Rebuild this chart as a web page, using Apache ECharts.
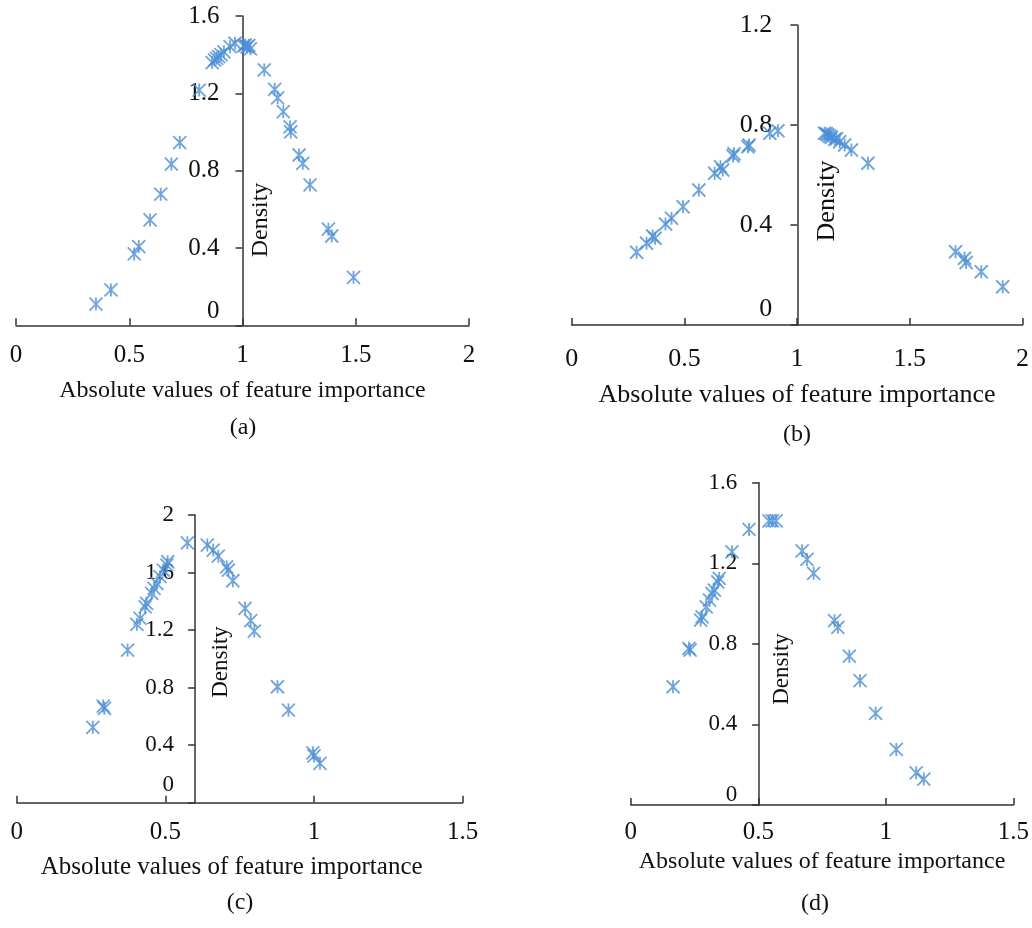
<!DOCTYPE html>
<html>
<head>
<meta charset="utf-8">
<script src="https://cdn.jsdelivr.net/npm/echarts@6/dist/echarts.min.js"></script>
<style>
html, body { margin: 0; padding: 0; background: #fff; }
#chart { width: 1032px; height: 928px; }
</style>
</head>
<body>
<div id="chart"></div>
<script>
// panel (a)
var xA = [0.353, 0.419, 0.522, 0.542, 0.592, 0.639, 0.686, 0.723, 0.809, 0.866, 0.877, 0.886, 0.895, 0.905, 0.918, 0.945, 0.967,
	1.005, 1.012, 1.02, 1.028, 1.035, 1.096, 1.142, 1.155, 1.18, 1.21, 1.213, 1.25, 1.266, 1.298, 1.379, 1.394, 1.49];
var yA = [0.11, 0.183, 0.369, 0.407, 0.545, 0.678, 0.834, 0.945, 1.217, 1.359, 1.372, 1.381, 1.39, 1.40, 1.415, 1.441, 1.459,
	1.445, 1.45, 1.44, 1.448, 1.43, 1.321, 1.221, 1.177, 1.105, 1.027, 1.0, 0.881, 0.838, 0.726, 0.497, 0.462, 0.248];
// panel (b)
var xB = [0.288, 0.332, 0.359, 0.37, 0.416, 0.443, 0.494, 0.564, 0.634, 0.66, 0.67, 0.716, 0.72, 0.782, 0.787, 0.879, 0.915,
	1.122, 1.13, 1.137, 1.145, 1.152, 1.167, 1.175, 1.189, 1.211, 1.241, 1.314,
	1.703, 1.743, 1.75, 1.817, 1.912];
var yB = [0.291, 0.327, 0.356, 0.347, 0.404, 0.427, 0.473, 0.54, 0.607, 0.633, 0.62, 0.676, 0.685, 0.713, 0.72, 0.767, 0.777,
	0.767, 0.765, 0.76, 0.755, 0.751, 0.743, 0.745, 0.733, 0.72, 0.7, 0.647,
	0.293, 0.267, 0.25, 0.213, 0.153];
// panel (c)
var xC = [0.256, 0.291, 0.295, 0.373, 0.404, 0.415, 0.432, 0.437, 0.454, 0.462, 0.471, 0.482, 0.493, 0.505, 0.508, 0.574,
	0.641, 0.661, 0.678, 0.706, 0.712, 0.727, 0.768, 0.787, 0.799, 0.877, 0.914, 0.996, 1.0, 1.02];
var yC = [0.524, 0.672, 0.656, 1.061, 1.24, 1.281, 1.362, 1.386, 1.455, 1.49, 1.525, 1.571, 1.617, 1.652, 1.675, 1.807,
	1.791, 1.756, 1.714, 1.64, 1.617, 1.543, 1.351, 1.265, 1.193, 0.806, 0.644, 0.347, 0.325, 0.274];
// panel (d)
var xD = [0.166, 0.228, 0.233, 0.274, 0.28, 0.296, 0.309, 0.319, 0.328, 0.341, 0.347, 0.397, 0.464, 0.542, 0.555, 0.57,
	0.672, 0.691, 0.717, 0.799, 0.812, 0.857, 0.899, 0.96, 1.041, 1.119, 1.149];
var yD = [0.587, 0.778, 0.769, 0.918, 0.934, 0.984, 1.017, 1.05, 1.067, 1.108, 1.125, 1.257, 1.368, 1.411, 1.411, 1.411,
	1.262, 1.219, 1.15, 0.915, 0.882, 0.739, 0.617, 0.455, 0.276, 0.16, 0.129];

var blue = '#4a8fd8';
var axisColor = '#333';
var font = '"Liberation Serif", "Times New Roman", serif';
var star = 'path://M0,0L10,10M10,0L0,10M5,0L5,10';

// grid boxes and axis settings for each panel
var panels = [
	{ x: xA, y: yA, left: 16, top: 16, width: 453, height: 309.3, xMax: 2, yMax: 1.6, cross: 1,
	  xFont: 25, yFont: 25, xMargin: 18, yMargin: 23, zeroLift: 28, nameGap: 53, nameShift: 0, nameFont: 24,
	  dens: [261, 220, 24], cap: ['(a)', 243, 428] },
	{ x: xB, y: yB, left: 571.7, top: 25, width: 451.3, height: 300, xMax: 2, yMax: 1.2, cross: 1,
	  xFont: 26, yFont: 26, xMargin: 21, yMargin: 25, zeroLift: 32, nameGap: 57, nameShift: 0, nameFont: 26,
	  dens: [827, 201, 26], cap: ['(b)', 797, 435] },
	{ x: xC, y: yC, left: 16.7, top: 515, width: 446, height: 287.7, xMax: 1.5, yMax: 2, cross: 0.6,
	  xFont: 25, yFont: 23, xMargin: 17, yMargin: 21, zeroLift: 36, nameGap: 52, nameShift: -8, nameFont: 25,
	  dens: [221, 662, 23], cap: ['(c)', 240, 903] },
	{ x: xD, y: yD, left: 630.7, top: 482.7, width: 385.3, height: 322.3, xMax: 1.5, yMax: 1.6, cross: 0.5,
	  xFont: 25, yFont: 23, xMargin: 15, yMargin: 22, zeroLift: 20, nameGap: 45, nameShift: 0, nameFont: 24,
	  dens: [782, 669, 23], cap: ['(d)', 815, 904] }
];

function pairs(xs, ys){
	var out = [];
	for(var i = 0; i < xs.length; i++){
		out.push([xs[i], ys[i]]);
	}
	return out;
}

var grids = [], xAxes = [], yAxes = [], series = [], graphics = [];

panels.forEach(function(p, i){
	grids.push({ left: p.left, top: p.top, width: p.width, height: p.height });
	xAxes.push({
		type: 'value', gridIndex: i, min: 0, max: p.xMax, interval: 0.5,
		splitLine: { show: false },
		axisLine: { lineStyle: { color: axisColor, width: 1.5 } },
		axisTick: { inside: true, length: 7, lineStyle: { color: axisColor, width: 1.5 } },
		axisLabel: { margin: p.xMargin, color: '#111', fontFamily: font, fontSize: p.xFont,
			formatter: function(v){ return String(v); } },
		name: 'Absolute values of feature importance',
		nameLocation: 'middle',
		nameGap: p.nameGap,
		nameTextStyle: { color: '#111', fontFamily: font, fontSize: p.nameFont,
			padding: p.nameShift < 0 ? [0, -p.nameShift * 2, 0, 0] : 0 }
	});
	yAxes.push({
		type: 'value', gridIndex: i, min: 0, max: p.yMax, interval: 0.4,
		position: 'left',
		offset: -(p.cross / p.xMax) * p.width,
		splitLine: { show: false },
		axisLine: { onZero: false, lineStyle: { color: axisColor, width: 1.5 } },
		axisTick: { length: 7, lineStyle: { color: axisColor, width: 1.5 } },
		axisLabel: {
			margin: p.yMargin, color: '#111', fontFamily: font, fontSize: p.yFont,
			formatter: function(v){ return v === 0 ? '{z|0}' : String(Math.round(v * 10) / 10); },
			rich: { z: { fontFamily: font, fontSize: p.yFont, color: '#111', padding: [0, 0, p.zeroLift, 0] } }
		}
	});
	series.push({
		type: 'scatter', xAxisIndex: i, yAxisIndex: i,
		data: pairs(p.x, p.y),
		symbol: star,
		symbolSize: 13,
		itemStyle: { color: 'rgba(0,0,0,0)', borderColor: blue, borderWidth: 1.8 }
	});
	graphics.push({
		type: 'text', x: p.dens[0], y: p.dens[1], rotation: Math.PI / 2,
		style: { text: 'Density', font: p.dens[2] + 'px ' + font, fill: '#111',
			textAlign: 'center', textVerticalAlign: 'middle' }
	});
	graphics.push({
		type: 'text', x: p.cap[1], y: p.cap[2],
		style: { text: p.cap[0], font: '24px ' + font, fill: '#111',
			textAlign: 'center', textVerticalAlign: 'middle' }
	});
});

var chart = echarts.init(document.getElementById('chart'));
chart.setOption({
	backgroundColor: '#fff',
	animation: false,
	grid: grids,
	xAxis: xAxes,
	yAxis: yAxes,
	series: series,
	graphic: graphics
});
</script>
</body>
</html>
